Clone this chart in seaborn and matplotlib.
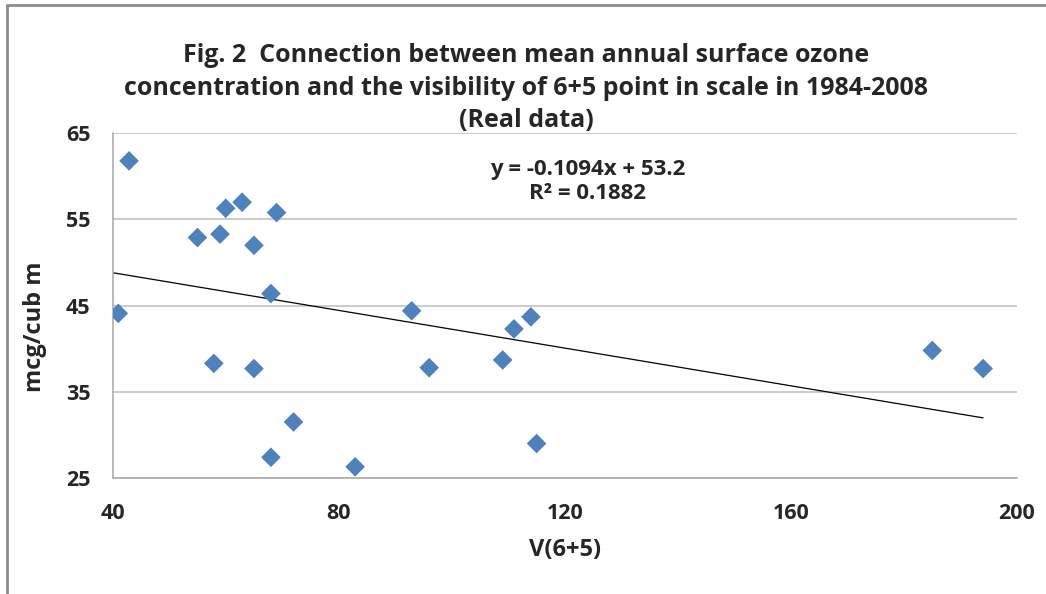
import numpy as np
import pandas as pd
import matplotlib
matplotlib.use('Agg')
import matplotlib.pyplot as plt
import seaborn as sns
from matplotlib.lines import Line2D

# V(6+5) visibility vs mean annual surface ozone
visibility = [42.9, 41.0, 55.0, 59.0, 60.0, 62.9, 69.0, 65.0, 68.0, 57.9, 65.0,
              72.0, 68.0, 82.9, 92.9, 96.0, 109.0, 111.0, 114.0, 115.0, 185.0, 194.0]
ozone = [61.8, 44.1, 52.9, 53.3, 56.3, 57.0, 55.8, 52.0, 46.4, 38.3, 37.7,
         31.5, 27.4, 26.3, 44.4, 37.8, 38.7, 42.3, 43.7, 29.0, 39.8, 37.7]
slope, intercept = -0.1094, 53.2
x_ticks = [40, 80, 120, 160, 200]
y_ticks = [25, 35, 45, 55, 65]

df = pd.DataFrame({'V(6+5)': visibility, 'ozone': ozone})

sns.set_style('white')
plt.rcParams['font.family'] = ['Open Sans', 'DejaVu Sans']

fig = plt.figure(figsize=(10.46, 5.94), dpi=100)
ax = fig.add_axes([0.1077, 0.1953, 0.8646, 0.5803])

sns.scatterplot(data=df, x='V(6+5)', y='ozone', marker='D', s=100,
                color='#4F81BD', edgecolor='none', ax=ax, zorder=3)

xs = np.array([40, max(visibility)])
ax.plot(xs, slope * xs + intercept, color='black', lw=0.9, zorder=2)

ax.set_xlim(40, 200)
ax.set_ylim(25, 65)
ax.set_xticks(x_ticks)
ax.set_yticks(y_ticks)
ax.yaxis.grid(True, color='#BDBDBD', lw=1.1)
ax.xaxis.grid(False)
for side in ['top', 'right']:
    ax.spines[side].set_visible(False)
for side in ['left', 'bottom']:
    ax.spines[side].set_color('#A6A6A6')
    ax.spines[side].set_linewidth(1.1)
ax.tick_params(axis='both', which='major', direction='out', length=6,
               width=1.1, color='#A6A6A6', labelsize=15.5)
ax.tick_params(axis='x', pad=12)
ax.tick_params(axis='y', pad=10)
for lab in ax.get_xticklabels() + ax.get_yticklabels():
    lab.set_fontweight('bold')

ax.set_xlabel('V(6+5)', fontsize=17, fontweight='bold')
ax.set_ylabel('mcg/cub m', fontsize=17, fontweight='bold')
ax.xaxis.label.set_va('center')
ax.yaxis.label.set_va('center')
ax.xaxis.set_label_coords(0.5, -0.209)
ax.yaxis.set_label_coords(-0.086, 0.44)

fig.text(0.503, 0.907, 'Fig. 2  Connection between mean annual surface ozone',
         ha='center', va='center', fontsize=18, fontweight='bold')
fig.text(0.503, 0.851, 'concentration and the visibility of 6+5 point in scale in 1984-2008',
         ha='center', va='center', fontsize=18, fontweight='bold')
fig.text(0.503, 0.797, '(Real data)',
         ha='center', va='center', fontsize=18, fontweight='bold')

fig.text(0.562, 0.695, 'y = -0.1094x + 53.2\nR² = 0.1882',
         ha='center', va='center', fontsize=16, fontweight='bold',
         linespacing=1.2)

# chart frame (top and left edges visible)
fig.add_artist(Line2D([0.0067, 0.0067], [0, 0.992], transform=fig.transFigure,
                      color='#8C8C8C', lw=2))
fig.add_artist(Line2D([0.0067, 1], [0.992, 0.992], transform=fig.transFigure,
                      color='#8C8C8C', lw=2))

fig.savefig('out.png', dpi=100)
